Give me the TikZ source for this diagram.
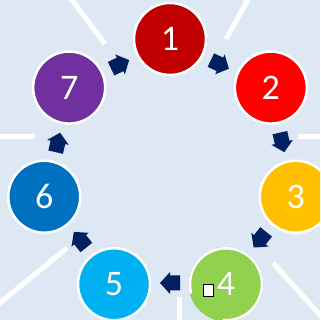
\documentclass[tikz,border=0pt]{standalone}
\usepackage{fontspec}
\setmainfont{Carlito}
\usetikzlibrary{calc}
\definecolor{bgc}{HTML}{DDE8F4}
\definecolor{c1}{HTML}{C00000}
\definecolor{c2}{HTML}{FF0000}
\definecolor{c3}{HTML}{FFC000}
\definecolor{c4}{HTML}{92D050}
\definecolor{c5}{HTML}{00B0F0}
\definecolor{c6}{HTML}{0070C0}
\definecolor{c7}{HTML}{7030A0}
\definecolor{arr}{HTML}{002060}
\begin{document}
\begin{tikzpicture}[x=1pt,y=1pt,
  circ/.style={circle, minimum size=72pt, inner sep=0pt, draw=white, line width=2.5pt, text=white, font=\fontsize{36}{36}\selectfont},
  ray/.style={white, line width=5pt}]
\fill[bgc] (0,0) rectangle (320,320);
\useasboundingbox (0,0) rectangle (320,320);
\clip (0,0) rectangle (320,320);
\coordinate (C) at (170,152);
% radiating white lines
\draw[ray] (105,276) -- (60,336);
\draw[ray] (226,281) -- (255,333);
\draw[ray] (298,183.5) -- (325,183.5);
\draw[ray] (273,57) -- (330,-6);
\draw[ray] (179.5,23) -- (179.5,-5);
\draw[ray] (67,72) -- (-10,9);
\draw[ray] (35,183.5) -- (-5,183.5);
% circles
\foreach \k/\col in {1/c1,2/c2,3/c3,5/c5,6/c6,7/c7} {
  \node[circ, fill=\col] (n\k) at ($(C)+({90-(\k-1)*360/7}:129)$) {\k};
}
\node[circ, draw=none, fill=c4, minimum size=74.5pt] (n4) at ($(C)+({90-3*360/7}:129)$) {4};
\draw[white, line width=2.5pt] ($(n4.center)+(-95:36)$) arc[start angle=-95, end angle=195, radius=36];
% arrows
\foreach \k in {1,...,7} {
  \pgfmathsetmacro\ang{90-(\k-0.5)*360/7}
  \fill[arr, shift={($(C)+(\ang:115)$)}, rotate=\ang-90]
    (-10,-7.5) -- (0,-7.5) -- (0,-11) -- (10,0) -- (0,11) -- (0,7.5) -- (-10,7.5) -- cycle;
}
% small square
\node[draw=black, fill=white, line width=0.8pt, minimum width=10pt, minimum height=12.5pt, inner sep=0pt] (sq) at (208,29.5) {};
\end{tikzpicture}
\end{document}
